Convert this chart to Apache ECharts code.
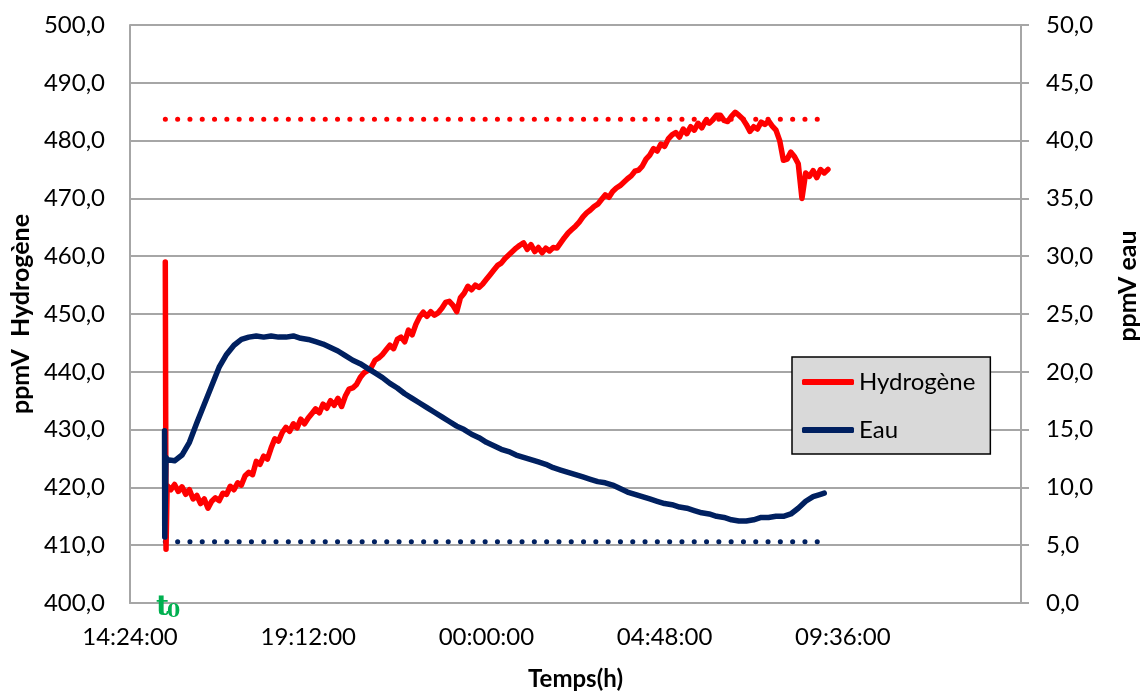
<!DOCTYPE html>
<html>
<head>
<meta charset="utf-8">
<script src="https://cdn.jsdelivr.net/npm/echarts@6/dist/echarts.min.js"></script>
<style>
html,body{margin:0;padding:0;background:#fff;}
#chart{width:1148px;height:696px;}
</style>
</head>
<body>
<div id="chart"></div>
<script>
// Time in hours elapsed since 14:24:00 (axis origin)
const axisStartClock = 14.4; // 14:24:00
const xTickLabels = ['14:24:00', '19:12:00', '00:00:00', '04:48:00', '09:36:00'];

// Hydrogène (ppmV, left axis)
const h2Time = [0.95, 0.97,
  1.0,1.1,1.2,1.3,1.4,1.5,1.6,1.7,1.8,1.9,
  2.0,2.1,2.2,2.3,2.4,2.5,2.6,2.7,2.8,2.9,
  3.0,3.1,3.2,3.3,3.4,3.5,3.6,3.7,3.8,3.9,
  4.0,4.1,4.2,4.3,4.4,4.5,4.6,4.7,4.8,4.9,
  5.0,5.1,5.2,5.3,5.4,5.5,5.6,5.7,5.8,5.9,
  6.0,6.1,6.2,6.3,6.4,6.5,6.6,6.7,6.8,6.9,
  7.0,7.1,7.2,7.3,7.4,7.5,7.6,7.7,7.8,7.9,
  8.0,8.1,8.2,8.3,8.4,8.5,8.6,8.7,8.8,8.9,
  9.0,9.1,9.2,9.3,9.4,9.5,9.6,9.7,9.8,9.9,
  10.0,10.1,10.2,10.3,10.4,10.5,10.6,10.7,10.8,10.9,
  11.0,11.1,11.2,11.3,11.4,11.5,11.6,11.7,11.8,11.9,
  12.0,12.1,12.2,12.3,12.4,12.5,12.6,12.7,12.8,12.9,
  13.0,13.1,13.2,13.3,13.4,13.5,13.6,13.7,13.8,13.9,
  14.0,14.1,14.2,14.3,14.4,14.5,14.6,14.7,14.8,14.9,
  15.0,15.1,15.2,15.3,15.4,15.5,15.6,15.7,15.8,15.9,
  16.0,16.1,16.2,16.3,16.4,16.5,16.6,16.7,16.8,16.9,
  17.0,17.1,17.2,17.3,17.4,17.5,17.6,17.7,17.8,17.9,
  18.0,18.1,18.2,18.3,18.4,18.5,18.6,18.7,18.8];
const h2Value = [459.0, 409.3,
  420.3,419.6,420.5,419.3,420.1,418.8,419.6,418.0,418.6,417.2,
  418.0,416.4,417.6,418.2,417.7,419.0,418.8,420.2,419.6,420.8,
  420.4,422.0,422.6,422.2,424.5,424.0,425.4,424.9,426.8,428.4,
  428.0,429.5,430.4,429.7,431.0,430.3,431.8,431.0,432.0,432.8,
  433.6,432.9,434.4,433.7,435.0,434.2,435.4,434.0,435.8,437.0,
  437.2,437.8,439.0,439.8,440.2,440.8,442.0,442.4,443.0,443.8,
  444.6,444.0,445.6,446.0,445.2,447.2,446.4,448.2,449.5,450.3,
  449.6,450.4,449.8,450.2,451.0,452.0,452.2,451.5,450.4,452.8,
  453.6,454.8,454.2,455.0,454.6,455.2,456.0,456.8,457.6,458.4,
  458.8,459.6,460.2,460.8,461.4,461.9,462.3,461.2,462.0,460.8,
  461.5,460.6,461.4,460.9,461.5,461.4,462.3,463.2,464.0,464.6,
  465.2,465.9,466.8,467.5,468.0,468.6,469.0,469.8,470.6,470.2,
  471.2,471.8,472.2,472.8,473.4,473.9,474.7,474.9,475.6,476.8,
  477.5,478.6,478.2,479.4,479.0,480.3,481.0,481.4,480.6,482.0,
  481.2,482.4,481.8,483.0,482.2,483.4,483.0,483.6,484.4,484.4,
  483.5,483.3,484.2,484.9,484.4,483.8,482.8,481.6,482.4,482.0,
  483.2,482.8,483.4,482.5,481.8,480.0,476.6,476.8,478.0,477.2,
  476.0,470.0,474.4,473.8,474.8,473.6,475.0,474.4,475.0];

// Eau (ppmV, right axis)
const eauTime = [0.93, 0.935, 0.97,
  1.0,1.2,1.4,1.6,1.8,2.0,2.2,2.4,2.6,2.8,
  3.0,3.2,3.4,3.6,3.8,4.0,4.2,4.4,4.6,4.8,
  5.0,5.2,5.4,5.6,5.8,6.0,6.2,6.4,6.6,6.8,
  7.0,7.2,7.4,7.6,7.8,8.0,8.2,8.4,8.6,8.8,
  9.0,9.2,9.4,9.6,9.8,10.0,10.2,10.4,10.6,10.8,
  11.0,11.2,11.4,11.6,11.8,12.0,12.2,12.4,12.6,12.8,
  13.0,13.2,13.4,13.6,13.8,14.0,14.2,14.4,14.6,14.8,
  15.0,15.2,15.4,15.6,15.8,16.0,16.2,16.4,16.6,16.8,
  17.0,17.2,17.4,17.6,17.8,18.0,18.2,18.4,18.6,18.7];
const eauValue = [14.9, 5.7, 12.6,
  12.4,12.3,12.8,13.9,15.6,17.2,18.8,20.4,21.5,22.3,
  22.8,23.0,23.1,23.0,23.1,23.0,23.0,23.1,22.9,22.8,
  22.6,22.4,22.1,21.8,21.4,21.0,20.7,20.3,19.9,19.5,
  19.0,18.6,18.1,17.7,17.3,16.9,16.5,16.1,15.7,15.3,
  15.0,14.6,14.3,13.9,13.6,13.3,13.1,12.8,12.6,12.4,
  12.2,12.0,11.7,11.5,11.3,11.1,10.9,10.7,10.5,10.4,
  10.2,9.9,9.6,9.4,9.2,9.0,8.8,8.6,8.5,8.3,
  8.2,8.0,7.8,7.7,7.5,7.4,7.2,7.1,7.1,7.2,
  7.4,7.4,7.5,7.5,7.7,8.2,8.8,9.2,9.4,9.5];

// Reference levels (dotted lines)
const h2RefTime = [0.95, 18.7];
const h2RefValue = [483.7, 483.7];
const eauRefTime = [0.95, 18.6];
const eauRefValue = [5.3, 5.3];

const pairs = (t, v) => t.map((x, i) => [x, v[i]]);
const fmtDec = v => v.toFixed(1).replace('.', ',');
const fmtClock = h => {
  let m = Math.round((axisStartClock + h) * 60) % 1440;
  const hh = Math.floor(m / 60), mm = m % 60;
  return String(hh).padStart(2, '0') + ':' + String(mm).padStart(2, '0') + ':00';
};

const FONT = 'Lato, "Liberation Sans", sans-serif';
const GRAY = '#a6a6a6';

const chart = echarts.init(document.getElementById('chart'), null, {renderer: 'canvas'});
chart.setOption({
  animation: false,
  backgroundColor: '#ffffff',
  textStyle: {fontFamily: FONT},
  grid: {left: 127, right: 123, top: 25, bottom: 87, containLabel: false},
  xAxis: {
    type: 'value', min: 0, max: 24, interval: 4.8,
    name: 'Temps(h)', nameLocation: 'middle', nameGap: 64,
    nameTextStyle: {fontFamily: FONT, fontWeight: 'bold', fontSize: 24, color: '#000'},
    axisLine: {show: true, lineStyle: {color: GRAY, width: 2}},
    axisTick: {show: false},
    splitLine: {show: false},
    axisLabel: {
      fontFamily: FONT, fontSize: 24, color: '#000', margin: 22,
      showMaxLabel: false,
      formatter: v => fmtClock(v)
    }
  },
  yAxis: [{
    type: 'value', min: 400, max: 500, interval: 10, position: 'left',
    name: 'ppmV  Hydrogène', nameLocation: 'middle', nameGap: 92, nameRotate: 90,
    nameTextStyle: {fontFamily: FONT, fontWeight: 'bold', fontSize: 25, color: '#000'},
    axisLine: {show: true, lineStyle: {color: GRAY, width: 2}},
    axisTick: {show: false},
    splitLine: {show: true, lineStyle: {color: GRAY, width: 2}},
    axisLabel: {fontFamily: FONT, fontSize: 24, color: '#000', margin: 25, formatter: v => fmtDec(v)}
  }, {
    type: 'value', min: 0, max: 50, interval: 5, position: 'right',
    name: 'ppmV eau', nameLocation: 'middle', nameGap: 94, nameRotate: 90,
    nameTextStyle: {fontFamily: FONT, fontWeight: 'bold', fontSize: 25, color: '#000', padding: [0, 0, 0, 56]},
    axisLine: {show: true, lineStyle: {color: GRAY, width: 2}},
    axisTick: {show: true, inside: false, length: 8, lineStyle: {color: GRAY, width: 2}},
    splitLine: {show: false},
    axisLabel: {fontFamily: FONT, fontSize: 24, color: '#000', margin: 25, formatter: v => fmtDec(v)}
  }],
  legend: {
    data: ['Hydrogène', 'Eau'],
    orient: 'vertical',
    left: 792, top: 357,
    padding: [13, 15, 12, 10],
    itemGap: 24,
    itemWidth: 52, itemHeight: 6,
    icon: 'roundRect',
    backgroundColor: '#d9d9d9',
    borderColor: '#000', borderWidth: 1.5,
    textStyle: {fontFamily: FONT, fontSize: 24, color: '#000', padding: [0, 0, 0, 0]}
  },
  series: [
    {
      name: 'Hydrogène', type: 'line', yAxisIndex: 0, symbol: 'none',
      data: pairs(h2Time, h2Value), z: 3,
      itemStyle: {color: '#ff0000'},
      lineStyle: {color: '#ff0000', width: 5.5, cap: 'round', join: 'round'}
    },
    {
      name: 'h2ref', type: 'line', yAxisIndex: 0, symbol: 'none',
      data: pairs(h2RefTime, h2RefValue), z: 2,
      lineStyle: {color: '#ff0000', width: 5, type: [0.1, 12.2], cap: 'round'}
    },
    {
      name: 'Eau', type: 'line', yAxisIndex: 1, symbol: 'none',
      data: pairs(eauTime, eauValue), z: 4,
      itemStyle: {color: '#002060'},
      lineStyle: {color: '#002060', width: 5.5, cap: 'round', join: 'round'}
    },
    {
      name: 'eauref', type: 'line', yAxisIndex: 1, symbol: 'none',
      data: pairs(eauRefTime, eauRefValue), z: 2,
      lineStyle: {color: '#002060', width: 5, type: [0.1, 12.2], cap: 'round'}
    }
  ],
  graphic: [
    {type: 'text', left: 156, top: 594, z: 10,
     style: {text: 't', fill: '#00b050', font: 'bold 28px "DejaVu Serif", "Liberation Serif", serif'}},
    {type: 'text', left: 167, top: 603, z: 10,
     style: {text: '0', fill: '#00b050', font: 'bold 19px "DejaVu Serif", "Liberation Serif", serif'}}
  ]
});
</script>
</body>
</html>
